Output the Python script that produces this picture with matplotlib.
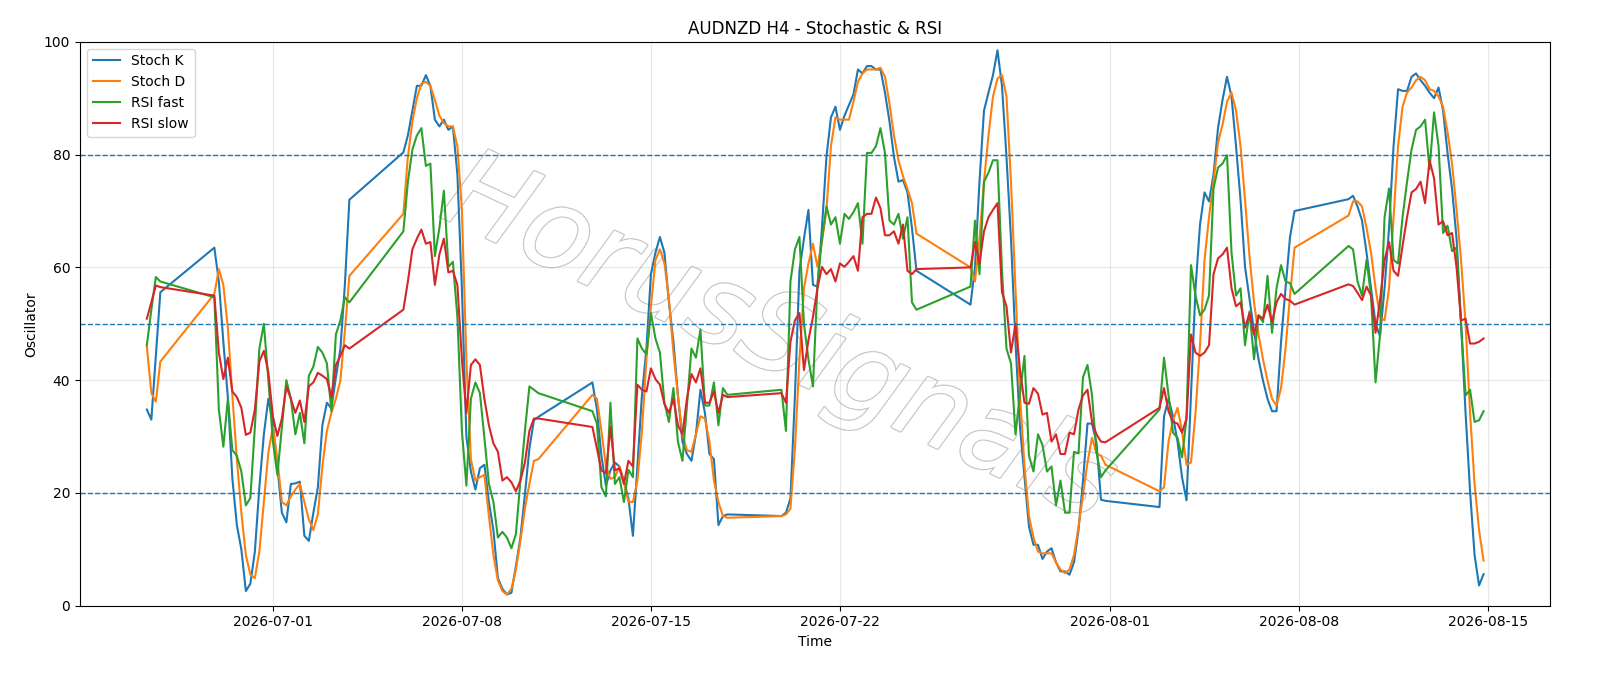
import matplotlib
matplotlib.use("Agg")
import matplotlib.pyplot as plt
import matplotlib.dates as mdates
import matplotlib.patheffects as pe
import pandas as pd

# H4 bars: Fri 26 Jun partial, then weekly Sun 20:00 + Mon 00:00 .. Fri 20:00
week_starts = ['2026-06-28', '2026-07-05', '2026-07-12', '2026-07-19',
               '2026-07-26', '2026-08-02', '2026-08-09']

stoch_k = [34.8, 33, 44.3, 55.6,
    63.5, 57.5, 46.8, 37, 22.6, 14.3, 10, 2.6, 3.9, 9.6, 21, 30.4, 36.7, 32.3, 24.7, 16.5, 14.8, 21.6, 21.7, 22, 12.4, 11.5, 16.5, 21, 32, 36, 35, 40.5, 45.5, 56.9, 72,
    80.4, 83.4, 87.8, 92.2, 92.2, 94.1, 92.2, 86.2, 85, 86.2, 84.4, 85, 76.5, 56.3, 30, 23.8, 20.6, 24.4, 25, 18.4, 13.4, 4.9, 3, 2, 2.3, 7, 12.1, 19.7, 27.9, 32.9, 33.5,
    39.6, 34.8, 26.6, 21.3, 24, 25.4, 24.7, 22.2, 19, 12.4, 24.7, 37.3, 45.6, 58.8, 62.6, 65.4, 62.6, 53.8, 46.8, 37.3, 29.1, 26.9, 25.7, 30.4, 38.3, 34.2, 26.9, 26, 14.3, 15.9, 16.2,
    15.9, 16.5, 19, 37.3, 59.4, 65.1, 70.2, 56.9, 56.6, 67, 79.6, 86.6, 88.5, 84.4, 86.9, 88.8, 90.7, 95.1, 94.4, 95.7, 95.7, 95.1, 95.1, 91, 85.9, 79.6, 75.2, 75.5, 73.3, 67, 59.4,
    53.4, 60, 75.2, 87.8, 91, 94.1, 98.5, 92.2, 79.6, 65.1, 46.8, 31.7, 22.8, 14, 10.8, 10.8, 8.3, 9.6, 10.2, 7.7, 6.1, 6.1, 5.5, 7.7, 13.4, 22.2, 32.3, 32.3, 28.9, 18.8, 18.6,
    17.5, 33.6, 36.7, 33.6, 29.1, 22.8, 18.7, 37.3, 56.3, 67.6, 73.3, 71.7, 76.5, 84.7, 89.7, 93.8, 90.3, 81.5, 72, 60.1, 54.4, 48.7, 43.7, 39.9, 36.7, 34.5, 34.5, 46.8, 56.3, 65.4, 70,
    72.1, 72.7, 70.8, 68.3, 62.6, 56.3, 50, 47.8, 56.3, 67, 81.5, 91.6, 91.3, 91.3, 93.8, 94.4, 93.2, 92.2, 91, 90, 91.9, 87.8, 80.3, 73.9, 65.1, 50, 34.2, 20.3, 9, 3.6, 5.6]

stoch_d = [46, 37.7, 36.2, 43.3,
    55.3, 59.7, 56.9, 49.3, 37.3, 26, 16.5, 9, 5.5, 4.9, 9.6, 18.4, 27.2, 31.7, 26, 18.4, 17.8, 19.4, 20.6, 21.6, 18.4, 15.3, 13.4, 16.2, 24.7, 31, 34.2, 36.7, 39.9, 48.7, 58.5,
    69.5, 79.6, 85.9, 90, 92.6, 92.9, 92.2, 89.7, 86.9, 85.6, 85, 85, 81.5, 70.2, 43.7, 26, 22.2, 22.8, 23.2, 15.9, 9, 4.5, 2.6, 2, 3, 6.4, 11.5, 17.2, 21.6, 25.7, 26,
    37.4, 36.7, 31, 24.7, 22.5, 22.8, 24.7, 21.9, 18.4, 18.4, 22.2, 31, 43.7, 53.1, 61.3, 63.2, 60.7, 54.4, 44.9, 37.3, 30.4, 27.6, 27.3, 30.4, 33.6, 33.2, 29.1, 22.2, 18.4, 15.9, 15.6,
    15.9, 16.2, 17.2, 27.9, 43.7, 56.3, 60.7, 64.2, 60.1, 64.5, 70.2, 81.5, 86.6, 86.2, 86.2, 86.2, 89.4, 92.9, 94.4, 95.1, 95.1, 95.1, 95.4, 93.8, 89.1, 83.4, 79, 76.2, 73.9, 71.4, 66,
    60, 57.5, 65.1, 75.2, 83.4, 90.3, 93.5, 94.1, 90.3, 75.2, 56.3, 37.3, 24.7, 15.9, 12.1, 9.6, 9.3, 9.3, 9.3, 7.7, 6.4, 5.8, 6.4, 9, 14, 19.7, 25.4, 29.8, 27, 26.6, 25,
    20.3, 21, 29.1, 32.9, 35.1, 31, 25, 25.4, 34.2, 46.2, 61.3, 68.9, 75.2, 82.1, 85.3, 89.4, 91, 87.8, 81.5, 72, 61.9, 53.8, 48.1, 43.7, 39.9, 36.7, 35.5, 38.6, 45.6, 55, 63.5,
    69.2, 71.7, 71.7, 70.8, 67, 62.6, 56.3, 51.2, 50.6, 56.3, 68.9, 81.5, 88.5, 91, 91.9, 93.2, 93.8, 93.2, 91.6, 91.3, 90.3, 88.5, 84, 78.4, 70.2, 61.3, 50, 34.2, 21.6, 13.4, 8]

rsi_fast = [46.2, 52.5, 58.3, 57.5,
    54.7, 34.8, 28.2, 36.7, 27.6, 26.6, 23.8, 17.8, 19.1, 31.7, 45.6, 50, 40, 29.2, 23.2, 31.7, 40, 36.7, 30.4, 34.2, 28.8, 40.8, 42.4, 45.9, 44.9, 43, 34.5, 48.1, 50.6, 54.7, 53.8,
    66.4, 75.2, 80.9, 83.4, 84.7, 78, 78.4, 62, 67, 73.6, 60.1, 61, 51.2, 31, 21.3, 36.7, 39.6, 37.7, 29.8, 21.6, 18.4, 12.1, 13.1, 12.1, 10.2, 12.7, 22.2, 31, 38.9, 38.3, 37.7,
    34.5, 32.3, 21, 19.4, 36, 21.6, 22.8, 18.4, 24.1, 22.8, 47.4, 45.6, 44.6, 51.9, 47.4, 44.9, 36, 32.6, 38.6, 29.1, 25.7, 35.5, 45.6, 44, 49, 35.5, 35.5, 39.6, 32, 38.6, 37.4,
    38.3, 31, 57.5, 63.2, 65.4, 50, 43.7, 38.9, 56.9, 65.1, 70.8, 67.6, 68.9, 64.2, 69.5, 68.6, 69.8, 71.4, 64.2, 80.3, 80.3, 81.5, 84.7, 80.3, 68.3, 67.6, 69.5, 65.1, 68.9, 53.8, 52.5,
    56.6, 68.3, 58.8, 75.2, 76.8, 79, 79, 59.4, 45.6, 43, 30.4, 37.6, 44.3, 26.6, 23.8, 30.4, 28.5, 23.8, 24.7, 17.8, 22.2, 16.5, 16.5, 27.3, 27, 40.5, 42.7, 37.3, 27.3, 22.8, 24,
    34.8, 44, 37.3, 30.7, 29.8, 26.3, 33.2, 60.4, 55, 51.5, 52.5, 55, 74, 77.7, 78.4, 79.9, 62.6, 55, 56.3, 46.2, 52.2, 43.7, 51.5, 50.3, 58.5, 48.4, 56.3, 60.4, 57.5, 57.2, 55.3,
    63.8, 63.2, 57.5, 55, 61.3, 55, 39.6, 48.1, 68.9, 74, 61.3, 60.7, 68.9, 75.2, 80.9, 84.4, 85, 86.2, 77.4, 87.5, 81.5, 66.1, 67.4, 62.9, 63.5, 50, 37.3, 38.3, 32.6, 32.9, 34.5]

rsi_slow = [50.9, 53.8, 56.8, 56.5,
    55, 44.9, 40.2, 44, 38, 37, 35.1, 30.3, 30.7, 34.8, 43.3, 45.2, 41.4, 33.6, 30.1, 33.2, 38.9, 36.7, 34.2, 36.4, 32.6, 38.9, 39.6, 41.3, 40.8, 40.2, 37, 42.7, 44.3, 46.2, 45.6,
    52.5, 57.5, 63.2, 65.1, 66.7, 64.2, 64.5, 56.9, 62.3, 65.1, 59.1, 59.4, 56.9, 43.7, 34.2, 42.7, 43.7, 42.7, 36.7, 32, 28.8, 27.3, 22.2, 22.8, 21.9, 20.3, 22.2, 25.4, 31, 33.2, 33.2,
    31.7, 27.9, 24, 23.5, 31.7, 24, 24.4, 21.6, 25.7, 24.7, 39.2, 38.3, 38, 42.1, 40.2, 39.2, 35.8, 34.2, 36.7, 32, 30.4, 36.7, 41.1, 39.6, 42.1, 36, 36, 38, 34.2, 37.4, 37,
    37.7, 36, 46.8, 50.6, 51.9, 41.8, 47.1, 51.2, 56.3, 60.1, 58.8, 59.7, 57.5, 60.7, 60.1, 61, 62, 59.4, 68.9, 69.5, 69.5, 72.4, 70.5, 65.7, 65.7, 66.4, 64.2, 67.6, 59.4, 58.8, 59.7,
    60, 64.5, 60.7, 66.4, 68.9, 70.2, 71.4, 55.6, 53.1, 44.9, 50, 41.8, 36, 35.8, 38.6, 37.6, 33.9, 34.2, 29.1, 30.4, 26.9, 26.9, 30.7, 30.4, 34.8, 37.3, 38.3, 32.6, 30.4, 29.1, 29,
    35.1, 38.6, 34.5, 32.6, 32.3, 30.7, 33.2, 48.1, 44.9, 44.3, 44.9, 46.2, 58.8, 61.6, 62.3, 63.5, 56.3, 53.1, 53.8, 49.3, 51.9, 48.1, 51.5, 50.9, 53.4, 50.3, 53.8, 55.3, 54.4, 54.1, 53.4,
    57, 56.7, 55.5, 54.2, 56.6, 55, 48.4, 54.2, 61.3, 64.5, 59.4, 58.5, 63.8, 68.9, 73.3, 73.9, 75.2, 71.4, 79, 75.8, 67.6, 68.2, 65.7, 66.1, 60, 50.6, 50.9, 46.5, 46.5, 46.8, 47.4]

# build timestamps
times = list(pd.date_range('2026-06-26 08:00', periods=4, freq='4h'))
for ws in week_starts:
    times.append(pd.Timestamp(ws) + pd.Timedelta(hours=20))
    times += list(pd.date_range(pd.Timestamp(ws) + pd.Timedelta(days=1), periods=30, freq='4h'))

fig, ax = plt.subplots(figsize=(16, 6.86), dpi=100)
fig.subplots_adjust(left=0.05, right=0.969, top=0.939, bottom=0.117)

ax.plot(times, stoch_k, label='Stoch K', color='tab:blue', lw=1.5)
ax.plot(times, stoch_d, label='Stoch D', color='tab:orange', lw=1.5)
ax.plot(times, rsi_fast, label='RSI fast', color='tab:green', lw=1.5)
ax.plot(times, rsi_slow, label='RSI slow', color='tab:red', lw=1.5)

for lvl in (20, 50, 80):
    ax.axhline(lvl, color='tab:blue', ls='--', lw=1)

# watermark: thin light letters with a soft shadow
ax.text(0.475, 0.47, 'HorusSignals', transform=ax.transAxes, fontsize=80,
        rotation=-25, color='white', ha='center', va='center',
        fontstyle='italic', zorder=0,
        path_effects=[pe.withStroke(linewidth=2, foreground='#c8c8c8'),
                      pe.Normal()])

ax.set_ylim(0, 100)
ax.grid(True, alpha=0.3)
ax.xaxis.set_major_locator(mdates.DayLocator(bymonthday=[1, 8, 15, 22]))
ax.xaxis.set_major_formatter(mdates.DateFormatter('%Y-%m-%d'))
ax.set_title('AUDNZD H4 - Stochastic & RSI')
ax.set_xlabel('Time')
ax.set_ylabel('Oscillator')
ax.legend(loc='upper left')

fig.savefig('out.png')
